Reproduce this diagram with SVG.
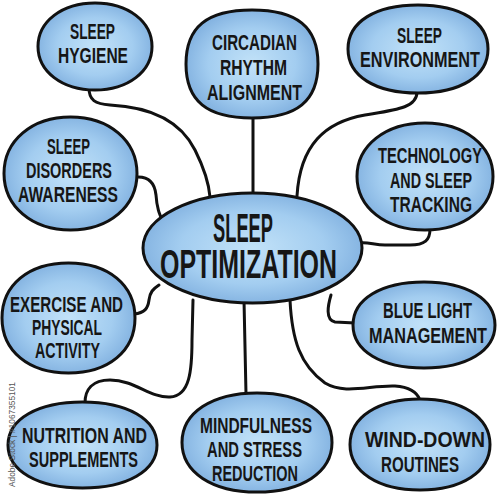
<svg xmlns="http://www.w3.org/2000/svg" width="500" height="496" viewBox="0 0 500 496">
<defs>
<radialGradient id="g" cx="50%" cy="50%" r="55%">
<stop offset="0" stop-color="#c2e2f8"/>
<stop offset="0.6" stop-color="#a3cdf0"/>
<stop offset="1" stop-color="#7eaede"/>
</radialGradient>
</defs>
<style>
.b{fill:url(#g);stroke:#111;stroke-width:3;stroke-linejoin:round}
.c{fill:none;stroke:#111;stroke-width:3;stroke-linecap:round;stroke-linejoin:round}
.t{font-family:"Liberation Sans Narrow","Liberation Sans",Arial,sans-serif;font-weight:bold;font-size:22px;fill:#161616}
.m{font-family:"Liberation Sans Narrow","Liberation Sans",Arial,sans-serif;font-weight:bold;font-size:40px;fill:#161616}
.w{font-family:"Liberation Sans",Arial,sans-serif;font-size:9px;fill:#555}
</style>
<rect width="500" height="496" fill="#fff"/>
<g id="connectors">
<path class="c" d="M89,88 C89,100 95,104 110,105 C150,107 180,120 195,150 C205,170 209,185 210,197"/>
<path class="c" d="M253,117 L253,196"/>
<path class="c" d="M417,92 C417,108 395,110 365,115 C325,122 300,145 297,196"/>
<path class="c" d="M136,177 C150,176 155,185 156,195 C157,210 160,215 164,224"/>
<path class="c" d="M430,229 C430,240 425,245 410,245 L385,245 C375,245 368,242 360,243"/>
<path class="c" d="M134,314 C145,313 148,308 149,300 C150,292 153,289 159,285"/>
<path class="c" d="M85,403 C85,390 92,380 110,380 C135,380 150,398 170,397 C190,396 192,370 192,340 L193,300"/>
<path class="c" d="M246,394 L244,300"/>
<path class="c" d="M290,300 C292,340 300,365 325,383 C345,395 370,385 395,386 C410,387 417,392 420,400"/>
<path class="c" d="M331,295 C328,305 325,320 335,322 L355,323"/>
</g>
<g id="sleep-hygiene">
<path class="b" d="M38,46.5 C38,21.5 62,3 95,3 C128,3 152,21.5 152,46.5 C152,71.5 128,90 95,90 C62,90 38,71.5 38,46.5Z"/>
<text class="t" x="70" y="39" textLength="45" lengthAdjust="spacingAndGlyphs">SLEEP</text>
<text class="t" x="58" y="63" textLength="70" lengthAdjust="spacingAndGlyphs">HYGIENE</text>
</g>
<g id="circadian-rhythm-alignment">
<path class="b" d="M186,64 C186,27 207,10 252,10 C297,10 318,27 318,64 C318,101 297,118 252,118 C207,118 186,101 186,64Z"/>
<text class="t" x="212" y="50" textLength="85" lengthAdjust="spacingAndGlyphs">CIRCADIAN</text>
<text class="t" x="220" y="75" textLength="67" lengthAdjust="spacingAndGlyphs">RHYTHM</text>
<text class="t" x="207" y="100" textLength="95" lengthAdjust="spacingAndGlyphs">ALIGNMENT</text>
</g>
<g id="sleep-environment">
<path class="b" d="M348,49 C348,22 375,5 418,5 C461,5 488,22 488,49 C488,76 461,93 418,93 C375,93 348,76 348,49Z"/>
<text class="t" x="397" y="43" textLength="45" lengthAdjust="spacingAndGlyphs">SLEEP</text>
<text class="t" x="360" y="67" textLength="120" lengthAdjust="spacingAndGlyphs">ENVIRONMENT</text>
</g>
<g id="sleep-disorders-awareness">
<path class="b" d="M4,173.5 C4,140.5 32,117 70.5,117 C109,117 137,140.5 137,173.5 C137,206.5 109,230 70.5,230 C32,230 4,206.5 4,173.5Z"/>
<text class="t" x="47" y="154" textLength="43" lengthAdjust="spacingAndGlyphs">SLEEP</text>
<text class="t" x="26" y="178" textLength="86" lengthAdjust="spacingAndGlyphs">DISORDERS</text>
<text class="t" x="18" y="202" textLength="100" lengthAdjust="spacingAndGlyphs">AWARENESS</text>
</g>
<g id="technology-and-sleep-tracking">
<path class="b" d="M357,176.5 C357,145.5 385.5,123 425,123 C464.5,123 493,145.5 493,176.5 C493,207.5 464.5,230 425,230 C385.5,230 357,207.5 357,176.5Z"/>
<text class="t" x="378" y="163" textLength="104" lengthAdjust="spacingAndGlyphs">TECHNOLOGY</text>
<text class="t" x="390" y="188" textLength="82" lengthAdjust="spacingAndGlyphs">AND SLEEP</text>
<text class="t" x="390" y="212" textLength="82" lengthAdjust="spacingAndGlyphs">TRACKING</text>
</g>
<g id="sleep-optimization">
<path class="b" d="M143,248 C143,217 192,193 252.5,193 C313,193 362,217 362,248 C362,279 313,303 252.5,303 C192,303 143,279 143,248Z"/>
<text class="m" x="213" y="242" textLength="60" lengthAdjust="spacingAndGlyphs">SLEEP</text>
<text class="m" x="160" y="278" textLength="177" lengthAdjust="spacingAndGlyphs">OPTIMIZATION</text>
</g>
<g id="exercise-and-physical-activity">
<path class="b" d="M2,318 C2,285 28.5,263 68.5,263 C108.5,263 135,285 135,318 C135,351 108.5,373 68.5,373 C28.5,373 2,351 2,318Z"/>
<text class="t" x="10" y="312" textLength="113" lengthAdjust="spacingAndGlyphs">EXERCISE AND</text>
<text class="t" x="32" y="335" textLength="70" lengthAdjust="spacingAndGlyphs">PHYSICAL</text>
<text class="t" x="35" y="358" textLength="65" lengthAdjust="spacingAndGlyphs">ACTIVITY</text>
</g>
<g id="blue-light-management">
<path class="b" d="M353,325 C353,299 381.4,282 424,282 C466.6,282 495,299 495,325 C495,351 466.6,368 424,368 C381.4,368 353,351 353,325Z"/>
<text class="t" x="383" y="318" textLength="89" lengthAdjust="spacingAndGlyphs">BLUE LIGHT</text>
<text class="t" x="369" y="343" textLength="118" lengthAdjust="spacingAndGlyphs">MANAGEMENT</text>
</g>
<g id="nutrition-and-supplements">
<path class="b" d="M8,445 C8,419 37.8,402 82.5,402 C127.2,402 157,419 157,445 C157,471 127.2,488 82.5,488 C37.8,488 8,471 8,445Z"/>
<text class="t" x="22" y="443" textLength="125" lengthAdjust="spacingAndGlyphs">NUTRITION AND</text>
<text class="t" x="29" y="467" textLength="109" lengthAdjust="spacingAndGlyphs">SUPPLEMENTS</text>
</g>
<g id="mindfulness-and-stress-reduction">
<path class="b" d="M182,442.5 C182,412.8 212,393 257,393 C302,393 332,412.8 332,442.5 C332,472.2 302,492 257,492 C212,492 182,472.2 182,442.5Z"/>
<text class="t" x="200" y="433" textLength="112" lengthAdjust="spacingAndGlyphs">MINDFULNESS</text>
<text class="t" x="207" y="457" textLength="95" lengthAdjust="spacingAndGlyphs">AND STRESS</text>
<text class="t" x="212" y="481" textLength="86" lengthAdjust="spacingAndGlyphs">REDUCTION</text>
</g>
<g id="wind-down-routines">
<path class="b" d="M350,444.5 C350,417.2 378,399 420,399 C462,399 490,417.2 490,444.5 C490,471.8 462,490 420,490 C378,490 350,471.8 350,444.5Z"/>
<text class="t" x="365" y="447" textLength="120" lengthAdjust="spacingAndGlyphs">WIND-DOWN</text>
<text class="t" x="381" y="472" textLength="78" lengthAdjust="spacingAndGlyphs">ROUTINES</text>
</g>
<text class="w" x="15" y="487" transform="rotate(-90 15 487)" textLength="105" lengthAdjust="spacingAndGlyphs">Adobe Stock | #1067355101</text>
</svg>
